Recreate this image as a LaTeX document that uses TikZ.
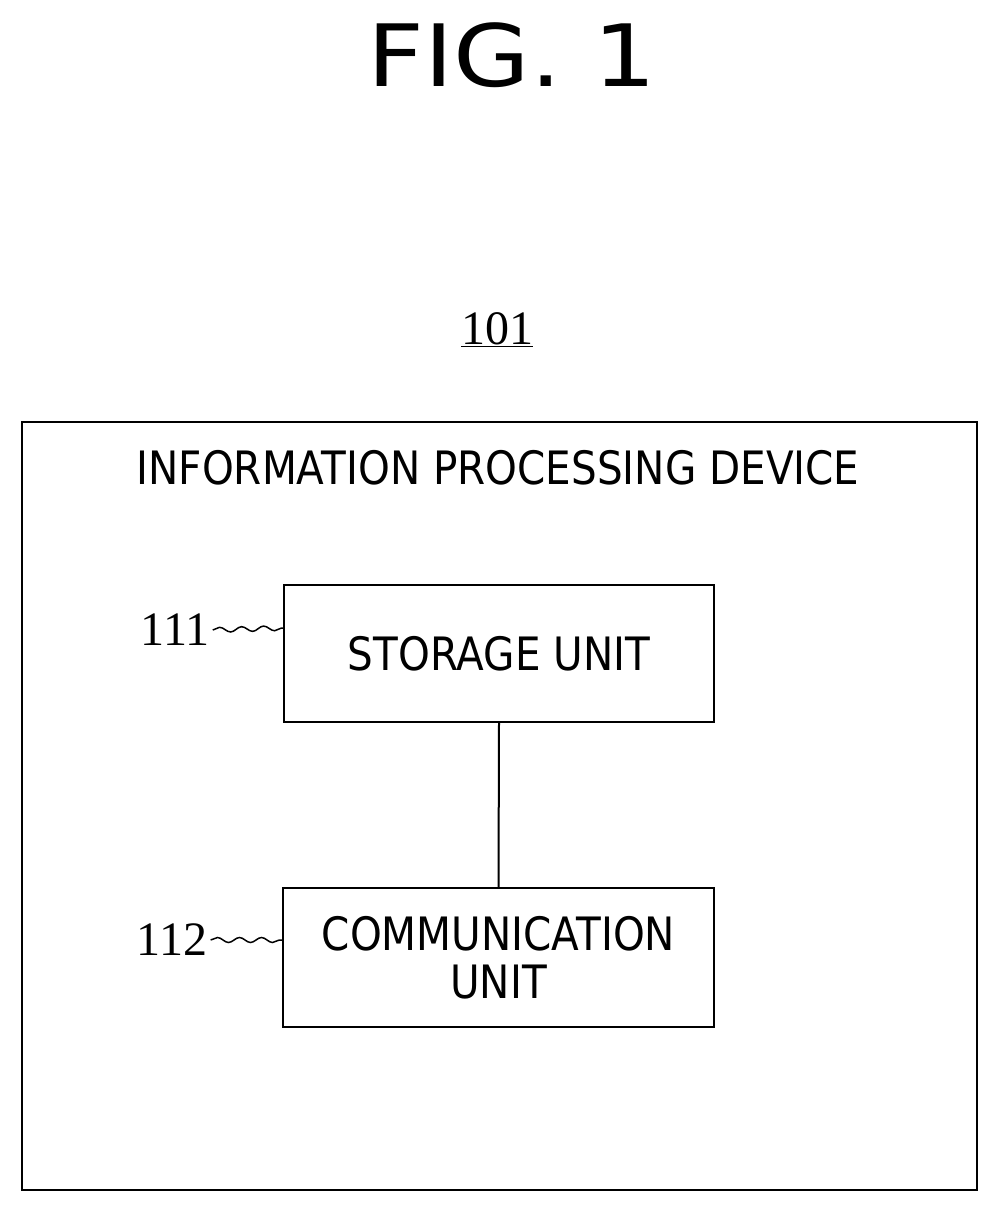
\documentclass[tikz,border=0pt]{standalone}
\usepackage{fontspec}
\setmainfont{DejaVu Sans}
\newfontfamily\numfont{Liberation Serif}
\usetikzlibrary{decorations.pathmorphing}
\begin{document}
\begin{tikzpicture}[x=1pt,y=-1pt,
  box/.style={draw,line width=2pt,inner sep=0pt},
  lbl/.style={font=\fontsize{46}{54}\selectfont,align=center},
  num/.style={font=\numfont\fontsize{48}{54}\selectfont},
  lead/.style={line width=1.5pt,decorate,decoration={snake,amplitude=2.5pt,segment length=22pt}}]
\useasboundingbox (0,0) rectangle (998,1212);
\node (fig) at (512,55) {\fontsize{86}{90}\selectfont\scalebox{1.15}[1]{FIG. 1}};
\node[num] (n101) at (497,330) {\underline{101}};
\draw[box] (22,422) rectangle (977,1190);
\node[lbl] (title) at (498,468) {\scalebox{0.88}[1]{INFORMATION PROCESSING DEVICE}};
\node[box,minimum width=430pt,minimum height=137pt] (st) at (499,653.5) {};
\node[lbl] at (st) {\scalebox{0.88}[1]{STORAGE UNIT}};
\node[box,minimum width=431pt,minimum height=139pt] (cm) at (498.5,957.5) {};
\node[lbl] at (cm) {\scalebox{0.88}[1]{COMMUNICATION}\\[-6pt]\scalebox{0.88}[1]{UNIT}};
\draw[line width=2pt] (st.south) -- (cm.north);
\node[num] (n111) at (175,630) {111};
\node[num] (n112) at (172,940) {112};
\draw[lead] (n111.east) -- (st.west |- 0,628);
\draw[lead] (n112.east) -- (cm.west |- 0,940);
\end{tikzpicture}
\end{document}
